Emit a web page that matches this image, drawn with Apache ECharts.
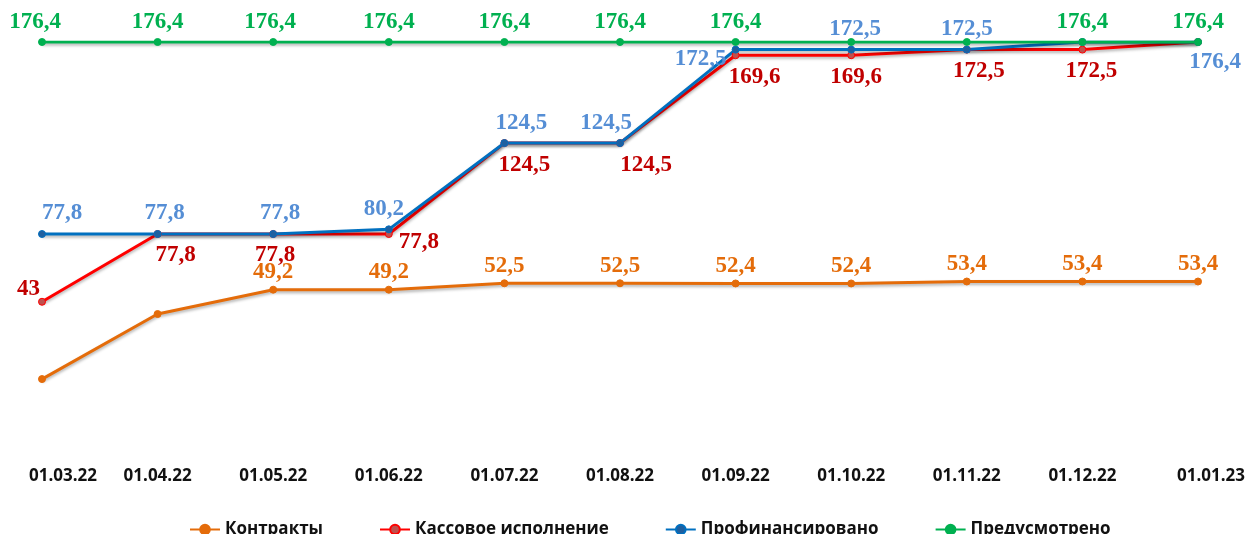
<!DOCTYPE html>
<html><head><meta charset="utf-8">
<script src="https://cdn.jsdelivr.net/npm/echarts@6/dist/echarts.min.js"></script>
<style>html,body{margin:0;padding:0;background:#fff}#c{width:1249px;height:534px}</style>
</head><body><div id="c"></div>
<script>
const categories = ['01.03.22','01.04.22','01.05.22','01.06.22','01.07.22','01.08.22','01.09.22','01.10.22','01.11.22','01.12.22','01.01.23'];
const seriesNames = ['Контракты','Кассовое исполнение','Профинансировано','Предусмотрено'];
const contracts = [3.3, 36.7, 49.2, 49.2, 52.5, 52.5, 52.4, 52.4, 53.4, 53.4, 53.4];
const cash      = [43, 77.8, 77.8, 77.8, 124.5, 124.5, 169.6, 169.6, 172.5, 172.5, 176.4];
const financed  = [77.8, 77.8, 77.8, 80.2, 124.5, 124.5, 172.5, 172.5, 172.5, 176.4, 176.4];
const planned   = [176.4, 176.4, 176.4, 176.4, 176.4, 176.4, 176.4, 176.4, 176.4, 176.4, 176.4];

// label layout (styling only)
const labelFont = {fontFamily:'"Liberation Serif", "DejaVu Serif", serif', fontWeight:'bold', fontSize:23};
const axisFont = {color:'#111', fontWeight:'bold', fontSize:17, fontFamily:'"Open Sans", "Noto Sans", sans-serif'};
const fmt = p => String(p.value).replace('.', ',');
const contractsLabel = {0:{show:false}, 1:{show:false}};
const cashDx = [0, 18, 2, 0, 20, 26, 19, 5, 12, 9, 0];
const cashLabel = {0:{position:'left', offset:[8,-13]}, 3:{position:'right', offset:[0,8]}, 10:{show:false}};
const financedDx = [20, 7, 7, -5, 17, -14, 0, 4, 0, 0, 0];
const financedLabel = {6:{position:'left', distance:5, offset:[0,9]}, 9:{show:false}, 10:{position:'bottom', distance:5, offset:[17,0]}};
const plannedDx = [-7, 0, -3, 0, 0, 0, 0, 0, 0, 0, 0];
const plannedLabel = {7:{show:false}, 8:{show:false}};

function build(values, overrides, dx, defPos, dist) {
  return values.map((v, i) => {
    const lab = Object.assign({position: defPos, distance: dist, offset: [dx ? dx[i] : 0, 0]}, overrides[i] || {});
    return {value: v, label: lab};
  });
}

function mkSeries(name, values, lineColor, markerColor, labelColor, overrides, dx, pos, dist) {
  return {
    name, type:'line', data: build(values, overrides, dx, pos, dist),
    symbol:'circle', symbolSize:7,
    lineStyle:{color:lineColor, width:3, shadowColor:'rgba(0,0,0,0.3)', shadowBlur:3, shadowOffsetY:2},
    itemStyle:{color:markerColor, borderColor:lineColor, borderWidth:1},
    label:Object.assign({show:true, color:labelColor, formatter:fmt}, labelFont),
    emphasis:{disabled:true},
    animation:false
  };
}

const chart = echarts.init(document.getElementById('c'));
chart.setOption({
  animation:false,
  grid:{left:42, right:51, top:42, bottom:148.5, containLabel:false},
  xAxis:{type:'category', data:categories, boundaryGap:false,
    axisLine:{show:false}, axisTick:{show:false}, splitLine:{show:false},
    axisLabel:Object.assign({margin:82, interval:0, hideOverlap:false,
      formatter:(v, i) => i === 0 ? '{a|' + v + '}' : (i === categories.length - 1 ? '{b|' + v + '}' : v),
      rich:{a:Object.assign({padding:[0,0,0,42]}, axisFont), b:Object.assign({padding:[0,0,0,26]}, axisFont)}
    }, axisFont)},
  yAxis:{type:'value', min:0, max:176.4, show:false, splitLine:{show:false}},
  legend:{data:seriesNames, top:516, left:184, itemGap:56, itemWidth:30, itemHeight:12,
    textStyle:{fontWeight:'bold', fontSize:17, color:'#111', fontFamily:'"Open Sans", "Noto Sans", sans-serif'}},
  series:[
    mkSeries(seriesNames[0], contracts, '#E46C0A', '#E46C0A', '#E46C0A', contractsLabel, null, 'top', 2),
    mkSeries(seriesNames[1], cash, '#FF0000', '#C0504D', '#C00000', cashLabel, cashDx, 'bottom', 6),
    mkSeries(seriesNames[2], financed, '#0070C0', '#1F5F9F', '#558ED5', financedLabel, financedDx, 'top', 5),
    mkSeries(seriesNames[3], planned, '#00B050', '#00B050', '#00B050', plannedLabel, plannedDx, 'top', 4)
  ]
});
</script></body></html>
